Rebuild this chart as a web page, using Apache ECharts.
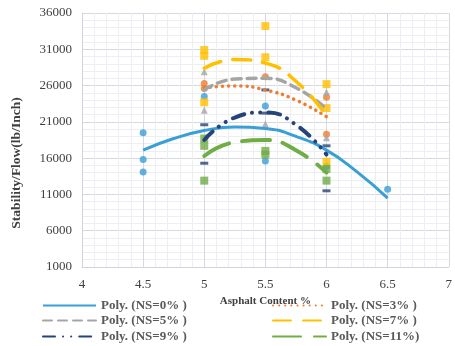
<!DOCTYPE html>
<html>
<head>
<meta charset="utf-8">
<script src="https://cdn.jsdelivr.net/npm/echarts@6/dist/echarts.min.js"></script>
<style>html,body{margin:0;padding:0;background:#fff;}#c{width:455px;height:346px;}</style>
</head>
<body>
<div id="c"></div>
<script>
// ---- data ----
const xTicks = [4, 4.5, 5, 5.5, 6, 6.5, 7];
const yTicks = [1000, 6000, 11000, 16000, 21000, 26000, 31000, 36000];

// measured points (x, y)
const ns0X = [4.5, 4.5, 4.5, 5, 5.5, 5.5, 6, 6.5];
const ns0Y = [19500, 15800, 14100, 24500, 23200, 15600, 14900, 11700];
const ns3X = [5, 5, 5.5, 6, 6];
const ns3Y = [26300, 25600, 27200, 24400, 19300];
const ns5X = [5, 5, 5.5, 6, 6];
const ns5Y = [27900, 22600, 20700, 25100, 18800];
const ns7X = [5, 5, 5, 5.5, 5.5, 6, 6, 6];
const ns7Y = [30900, 30100, 23700, 34200, 29900, 26200, 22900, 15500];
const ns9X = [5, 5, 5.5, 5.5, 6, 6];
const ns9Y = [20600, 15300, 25400, 22200, 17700, 11500];
const ns11X = [5, 5, 5, 5.5, 5.5, 6, 6];
const ns11Y = [18700, 17700, 12900, 17000, 16500, 14500, 12900];

// polynomial trend lines
const trend0X = [4.5, 4.75, 5, 5.25, 5.5, 5.75, 6, 6.25, 6.5];
const trend0Y = [17100, 18700, 19800, 20300, 20100, 19000, 17100, 14100, 10500];
const trendX = [5, 5.25, 5.5, 5.75, 6];
const trend3Y = [25700, 25950, 25400, 24000, 21700];
const trend5Y = [25400, 26900, 27000, 25700, 22800];
const trend7Y = [28400, 29600, 29100, 26600, 21800];
const trend9Y = [18500, 21600, 22300, 20600, 16500];
const trend11Y = [16300, 18200, 18500, 17100, 14000];

const names = ['Poly. (NS=0% )', 'Poly. (NS=3% )', 'Poly. (NS=5% )', 'Poly. (NS=7% )', 'Poly. (NS=9% )', 'Poly. (NS=11%)'];
const colors = ['#3a9fd6', '#ed7d31', '#a5a5a5', '#ffc000', '#264478', '#70ad47'];

const zip = (xs, ys) => xs.map((x, i) => [x, ys[i]]);
const FONT = 'Liberation Serif';

function scatter(name, xs, ys, color, symbol, size) {
  return { name: name, type: 'scatter', data: zip(xs, ys), symbol: symbol, symbolSize: size,
    itemStyle: { color: color }, z: 2, silent: true };
}
function trend(name, xs, ys, color, width, dash) {
  return { name: name, type: 'line', data: zip(xs, ys), smooth: 0.5, symbol: 'none', z: 3, silent: true,
    lineStyle: { color: color, width: width, type: dash, cap: dash === 'solid' ? 'butt' : 'round' },
    itemStyle: { color: color } };
}

// legend placement: column 1 / column 2, three rows
const legendPos = [[42, 299], [272, 299], [42, 314], [272, 314], [42, 330], [272, 330]];
const legendOrder = [0, 1, 2, 3, 4, 5];
const legendText = { fontFamily: FONT, fontSize: 13, fontWeight: 'bold', color: '#595959' };
const legends = legendOrder.map((k, i) => ({
  data: [names[k]], orient: 'horizontal', left: legendPos[i][0], top: legendPos[i][1], padding: 0,
  itemWidth: 53, itemHeight: 8, selectedMode: false, textStyle: legendText,
  itemStyle: { color: 'rgba(0,0,0,0)', borderWidth: 0 }
}));

const chart = echarts.init(document.getElementById('c'));
chart.setOption({
  animation: false,
  grid: { left: 82, right: 5, top: 13, bottom: 79 },
  xAxis: {
    type: 'value', min: xTicks[0], max: xTicks[xTicks.length - 1], interval: 0.5,
    name: 'Asphalt Content %', nameLocation: 'middle', nameGap: 17,
    nameTextStyle: { fontFamily: FONT, fontSize: 11, fontWeight: 'bold', color: '#404040' },
    axisLine: { show: true, lineStyle: { color: '#d0d4de' } },
    axisTick: { show: false },
    axisLabel: { fontFamily: FONT, fontSize: 13, color: '#404040', margin: 11, formatter: v => String(v) },
    splitLine: { show: true, lineStyle: { color: '#d6d9e2', width: 1 } },
    minorSplitLine: { show: true, lineStyle: { color: '#eceef2', width: 1 } },
    minorTick: { show: false, splitNumber: 5 }
  },
  yAxis: {
    type: 'value', min: yTicks[0], max: yTicks[yTicks.length - 1], interval: 5000,
    axisLine: { show: true, lineStyle: { color: '#d0d4de' } },
    axisTick: { show: false },
    axisLabel: { fontFamily: FONT, fontSize: 13, color: '#404040', margin: 10, formatter: v => String(v) },
    splitLine: { show: true, lineStyle: { color: '#d6d9e2', width: 1 } },
    minorSplitLine: { show: true, lineStyle: { color: '#eceef2', width: 1 } },
    minorTick: { show: false, splitNumber: 5 }
  },
  graphic: [{
    type: 'text', x: 17, y: 163, rotation: Math.PI / 2,
    style: { text: 'Stability/Flow(lb/Inch)', fontFamily: FONT, fontSize: 13.5, fontWeight: 'bold',
      fill: '#404040', align: 'center', verticalAlign: 'middle' }
  }],
  legend: legends,
  series: [
    scatter('NS=0%', ns0X, ns0Y, colors[0], 'circle', 7),
    scatter('NS=3%', ns3X, ns3Y, colors[1], 'circle', 7),
    scatter('NS=5%', ns5X, ns5Y, colors[2], 'triangle', 7),
    scatter('NS=7%', ns7X, ns7Y, colors[3], 'rect', 8),
    scatter('NS=9%', ns9X, ns9Y, colors[4], 'rect', [8, 3]),
    scatter('NS=11%', ns11X, ns11Y, colors[5], 'rect', 8),
    trend(names[0], trend0X, trend0Y, colors[0], 3, 'solid'),
    trend(names[1], trendX, trend3Y, colors[1], 3.5, [0.1, 6]),
    trend(names[2], trendX, trend5Y, colors[2], 3.5, [9, 6]),
    trend(names[3], trendX, trend7Y, colors[3], 3.5, [18, 12]),
    trend(names[4], trendX, trend9Y, colors[4], 4, [12, 8, 0.1, 8, 0.1, 8]),
    trend(names[5], trendX, trend11Y, colors[5], 4, [28, 13])
  ]
});
</script>
</body>
</html>
